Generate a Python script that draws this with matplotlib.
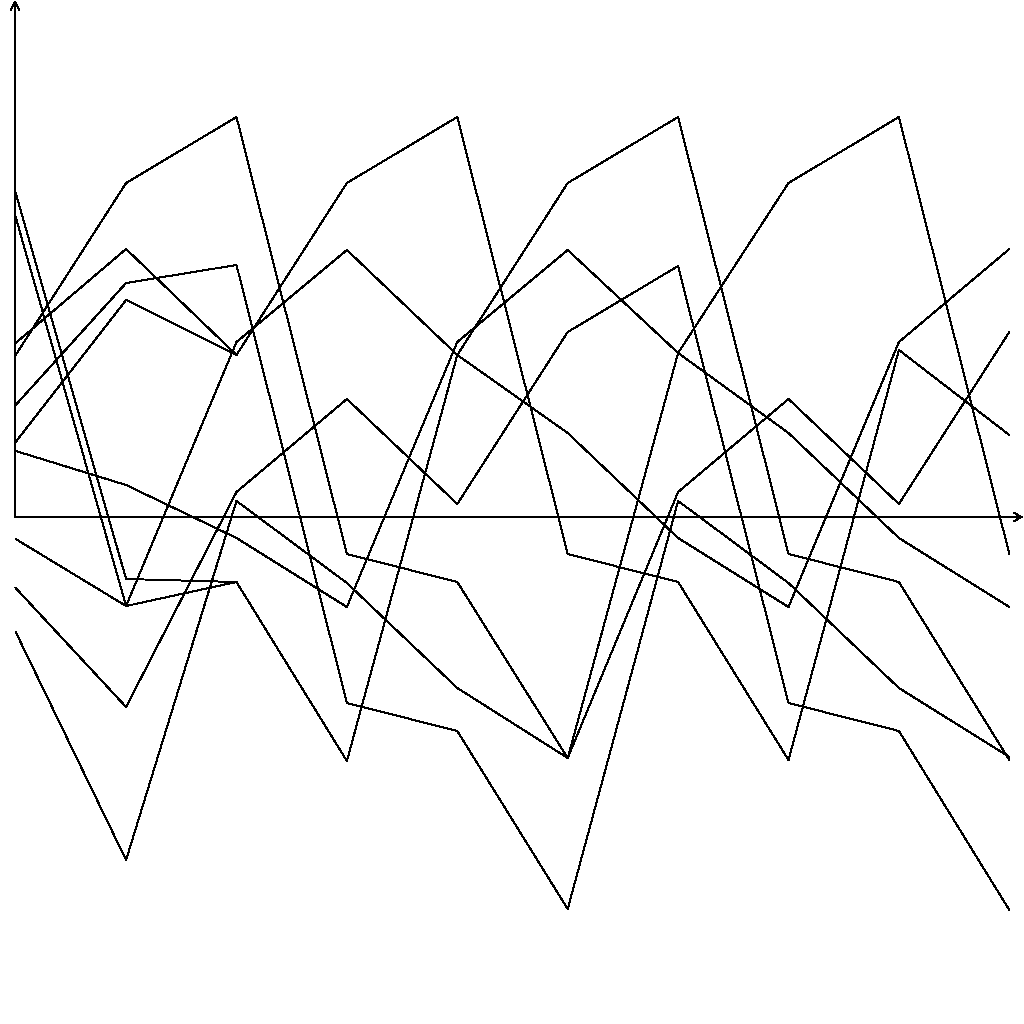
import matplotlib
matplotlib.use('Agg')
import matplotlib.pyplot as plt

# ten series over ten steps
x = list(range(10))
series_a = [32.4, -6.2, -6.5, -24.4, 16.2, 33.4, 40.0, -3.7, -6.5, -24.3]
series_b = [30.0, -8.9, -6.5, -24.4, 16.2, 8.4, -2.1, -9.0, 17.5, 26.8]
series_c = [17.4, 26.8, 16.2, 33.4, 40.0, -3.7, -6.5, -24.3, 16.7, 8.2]
series_d = [16.2, 33.4, 40.0, -3.7, -6.5, -24.1, 16.4, 33.4, 40.0, -3.7]
series_e = [11.2, 23.4, 25.2, -18.6, -21.4, -39.2, 1.6, -6.6, -17.1, -24.0]
series_f = [7.5, 21.7, 16.2, 33.4, 40.0, -3.7, -6.5, -24.3, 16.7, 8.2]
series_g = [6.6, 3.2, -2.1, -9.0, 17.5, 26.7, 16.4, 8.4, -2.1, -9.0]
series_h = [-2.2, -8.9, 17.5, 26.7, 16.2, 8.4, -2.1, -9.0, 17.5, 26.8]
series_i = [-7.1, -19.0, 2.5, 11.8, 1.3, 18.5, 25.1, -18.6, -21.4, -39.3]
series_j = [-11.5, -34.3, 1.6, -6.6, -17.1, -24.1, 2.5, 11.8, 1.3, 18.5]

all_series = [series_a, series_b, series_c, series_d, series_e,
              series_f, series_g, series_h, series_i, series_j]

fig = plt.figure(figsize=(10.24, 10.24), dpi=100)
ax = fig.add_axes([0, 0, 1, 1])
for s in all_series:
    ax.plot(x, s, color='black', linewidth=0.7, antialiased=False)

ax.set_xlim(-0.142, 9.133)
ax.set_ylim(-50.7, 51.7)
ax.axis('off')

# bare axes drawn from the origin, with open arrow tips
arrow = dict(arrowstyle='->,head_length=0.55,head_width=0.3', color='black',
             lw=0.7, shrinkA=0, shrinkB=0, antialiased=False)
ax.annotate('', xy=(9.12, 0), xytext=(-0.006, 0), arrowprops=arrow)
ax.annotate('', xy=(-0.006, 51.6), xytext=(-0.006, 0), arrowprops=arrow)

fig.savefig('out.png', dpi=100)
